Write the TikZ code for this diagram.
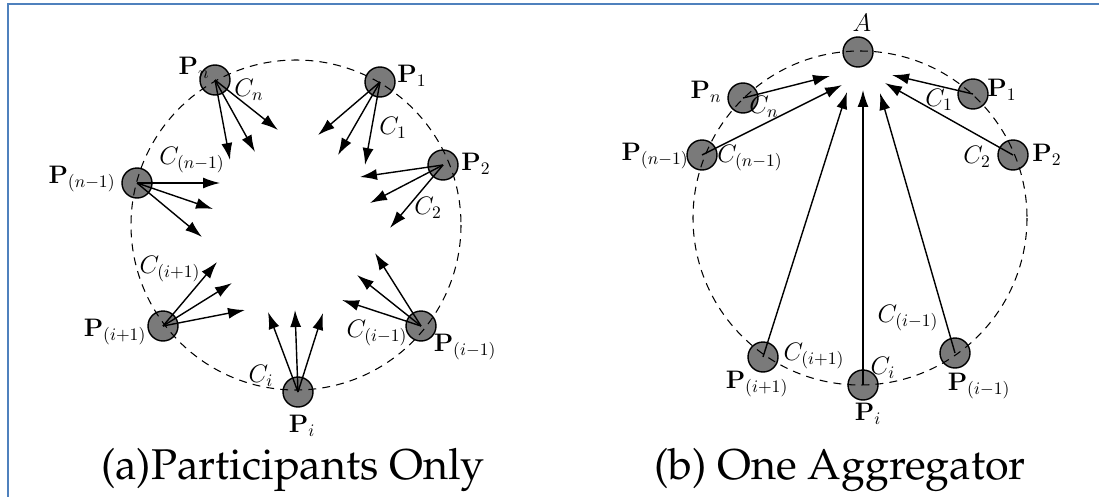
\documentclass[tikz,border=0pt]{standalone}
\usepackage{amsmath}
\usepackage{tikz}
\usetikzlibrary{arrows.meta}
\definecolor{frameblue}{RGB}{79,129,189}
\definecolor{nodegray}{RGB}{122,122,122}

\begin{document}
\begin{tikzpicture}[
    x=0.02cm, y=-0.02cm,
    font=\Large,
    >={Latex[length=3.4mm,width=2.2mm]},
    part/.style={circle, draw, thick, fill=nodegray, minimum size=0.6cm, inner sep=0pt},
    lbl/.style={inner sep=0pt},
    ring/.style={dash pattern=on 4.5pt off 3.5pt, semithick},
    arr/.style={->, thick},
    capt/.style={inner sep=0pt, font=\fontencoding{T1}\fontfamily{ppl}\fontsize{24.5}{29}\selectfont}
]
    \useasboundingbox (0,0) rectangle (1099,497);
    \draw[frameblue, line width=1.4pt] (8,497) -- (8,4) -- (1099,4);

    % (a) participants only
    \node[part] (lpn) at (215,80) {};
    \node[part] (lp1) at (380,82) {};
    \node[part] (lp2) at (443,165) {};
    \node[part] (lpm) at (137,183) {};
    \node[part] (lpip) at (163,326) {};
    \node[part] (lpim) at (421,326) {};
    \node[part] (lpi) at (298,392) {};
    \draw[ring] (296,225) circle[radius=165];

    \coordinate (lpn-a) at (230,160); \coordinate (lpn-b) at (255,152); \coordinate (lpn-c) at (278,130);
    \coordinate (lp1-a) at (318,135); \coordinate (lp1-b) at (338,155); \coordinate (lp1-c) at (365,165);
    \coordinate (lp2-a) at (360,177); \coordinate (lp2-b) at (370,203); \coordinate (lp2-c) at (390,228);
    \coordinate (lpm-a) at (220,183); \coordinate (lpm-b) at (213,209); \coordinate (lpm-c) at (202,237);
    \coordinate (lpip-a) at (217,262); \coordinate (lpip-b) at (232,283); \coordinate (lpip-c) at (245,310);
    \coordinate (lpi-a) at (268,312); \coordinate (lpi-b) at (295,310); \coordinate (lpi-c) at (323,313);
    \coordinate (lpim-a) at (342,300); \coordinate (lpim-b) at (357,275); \coordinate (lpim-c) at (375,253);
    \foreach \p in {lpn,lp1,lp2,lpm,lpip,lpi,lpim}
        \foreach \s in {a,b,c}
            \draw[arr] (\p.center) -- (\p-\s);

    \node[lbl] (lpn-t) at (194,68) {$\mathbf{P}_n$};
    \node[lbl] (lpn-c) at (249,90) {$C_n$};
    \node[lbl] (lp1-t) at (412,76) {$\mathbf{P}_1$};
    \node[lbl] (lp1-c) at (393,128) {$C_1$};
    \node[lbl] (lp2-t) at (476,164) {$\mathbf{P}_2$};
    \node[lbl] (lp2-c) at (428,208) {$C_2$};
    \node[lbl] (lpm-t) at (82,179) {$\mathbf{P}_{(n-1)}$};
    \node[lbl] (lpm-c) at (192,160) {$C_{(n-1)}$};
    \node[lbl] (lpip-c) at (170,269) {$C_{(i+1)}$};
    \node[lbl] (lpip-t) at (115,332) {$\mathbf{P}_{(i+1)}$};
    \node[lbl] (lpim-c) at (377,333) {$C_{(i-1)}$};
    \node[lbl] (lpim-t) at (465,347) {$\mathbf{P}_{(i-1)}$};
    \node[lbl] (lpi-c) at (261,376) {$C_i$};
    \node[lbl] (lpi-t) at (302,426) {$\mathbf{P}_i$};

    \node[capt] (capa) at (293,470) {(a)Participants Only};

    % (b) one aggregator
    \node[part] (ra) at (858,52) {};
    \node[part] (rpn) at (743,98) {};
    \node[part] (rp1) at (973,94) {};
    \node[part] (rpm) at (702,155) {};
    \node[part] (rp2) at (1013,155) {};
    \node[part] (rpip) at (763,357) {};
    \node[part] (rpi) at (863,385) {};
    \node[part] (rpim) at (955,353) {};
    \draw[ring] (860,218) circle[radius=167];

    \coordinate (rpn-e) at (830,76);
    \coordinate (rpm-e) at (842,85);
    \coordinate (rpip-e) at (847,92);
    \coordinate (rpi-e) at (863,90);
    \coordinate (rpim-e) at (880,93);
    \coordinate (rp2-e) at (885,83);
    \coordinate (rp1-e) at (892,75);
    \foreach \p in {rpn,rpm,rpip,rpi,rpim,rp2,rp1}
        \draw[arr] (\p.center) -- (\p-e);

    \node[lbl] (ra-t) at (862,23) {$A$};
    \node[lbl] (rpn-t) at (706,92) {$\mathbf{P}_n$};
    \node[lbl] (rpn-c) at (764,107) {$C_n$};
    \node[lbl] (rp1-t) at (1002,90) {$\mathbf{P}_1$};
    \node[lbl] (rp1-c) at (939,100) {$C_1$};
    \node[lbl] (rpm-t) at (655,156) {$\mathbf{P}_{(n-1)}$};
    \node[lbl] (rpm-c) at (750,158) {$C_{(n-1)}$};
    \node[lbl] (rp2-c) at (977,157) {$C_2$};
    \node[lbl] (rp2-t) at (1047,155) {$\mathbf{P}_2$};
    \node[lbl] (rpim-c) at (908,318) {$C_{(i-1)}$};
    \node[lbl] (rpip-c) at (814,356) {$C_{(i+1)}$};
    \node[lbl] (rpip-t) at (757,384) {$\mathbf{P}_{(i+1)}$};
    \node[lbl] (rpi-c) at (883,368) {$C_i$};
    \node[lbl] (rpi-t) at (868,414) {$\mathbf{P}_i$};
    \node[lbl] (rpim-t) at (979,386) {$\mathbf{P}_{(i-1)}$};

    \node[capt] (capb) at (840,470) {(b) One Aggregator};
\end{tikzpicture}
\end{document}
